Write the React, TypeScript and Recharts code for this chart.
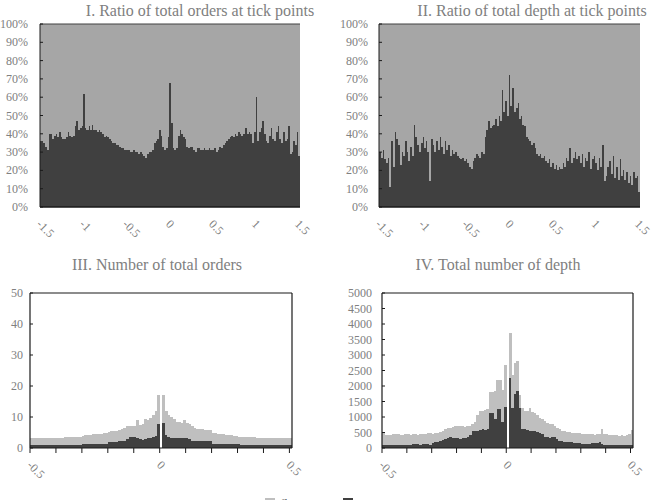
import React from 'react';
import { BarChart, Bar, XAxis, YAxis, Legend } from 'recharts';

const FONT = '"Liberation Serif", "Times New Roman", serif';
const DARK = '#404040';
const LIGHT_TOP = '#a6a6a6';
const LIGHT_BOTTOM = '#bfbfbf';
const TEXT = '#808080';
const AXIS = '#1a1a1a';

// category labels
const wideCategories = Array.from({ length: 151 }, (_, i) => String(Number((-1.5 + 0.02 * i).toFixed(2))));
const narrowCategories = Array.from({ length: 101 }, (_, i) => String(Number((-0.5 + 0.01 * i).toFixed(2))));
const wideTickLabels = ['-1.5', '-1', '-0.5', '0', '0.5', '1', '1.5'];
const narrowTickLabels = ['-0.5', '0', '0.5'];
const ratioTicks = [0, 10, 20, 30, 40, 50, 60, 70, 80, 90, 100];
const ordersTicks = [0, 10, 20, 30, 40, 50];
const depthTicks = [0, 500, 1000, 1500, 2000, 2500, 3000, 3500, 4000, 4500, 5000];
const legendNames = ['fleeting', 'persistent'];
const titles = [
  'I. Ratio of total orders at tick points',
  'II. Ratio of total depth at tick points',
  'III. Number of total orders',
  'IV. Total number of depth',
];

// Panel I: ratio (%) of total orders at tick points
const orderRatio = [
  36, 36, 35, 33, 31, 40, 40, 37, 39, 40,
  38, 41, 38, 37, 37, 38, 41, 39, 38, 39,
  44, 47, 42, 43, 44, 62, 43, 42, 44, 42,
  45, 42, 42, 41, 42, 41, 40, 38, 39, 38,
  37, 36, 35, 35, 34, 34, 33, 32, 32, 31,
  31, 31, 30, 30, 31, 30, 30, 29, 30, 29,
  28, 27, 29, 30, 30, 31, 35, 36, 37, 42,
  39, 33, 31, 32, 38, 68, 46, 32, 31, 32,
  39, 42, 40, 38, 37, 33, 32, 33, 33, 31,
  30, 32, 32, 31, 31, 32, 31, 31, 32, 31,
  31, 32, 30, 31, 33, 32, 34, 35, 36, 37,
  38, 39, 38, 40, 39, 41, 40, 39, 40, 43,
  40, 41, 40, 35, 41, 60, 36, 41, 43, 47,
  40, 36, 35, 39, 43, 37, 36, 41, 44, 37,
  35, 41, 36, 37, 44, 29, 30, 36, 34, 41, 28,
];

// Panel II: ratio (%) of total depth at tick points
const depthRatio = [
  30, 27, 31, 26, 24, 27, 11, 36, 22, 41,
  37, 34, 23, 30, 28, 36, 30, 25, 33, 28,
  45, 38, 34, 30, 35, 38, 32, 36, 30, 14,
  37, 34, 30, 36, 31, 38, 33, 29, 36, 31,
  34, 28, 31, 29, 30, 28, 27, 26, 27, 25,
  26, 24, 22, 21, 25, 27, 29, 28, 27, 30,
  29, 38, 42, 47, 43, 44, 45, 48, 44, 50,
  47, 64, 52, 58, 50, 72, 55, 65, 52, 54,
  57, 48, 50, 45, 44, 38, 37, 36, 34, 35,
  32, 29, 28, 29, 27, 28, 25, 24, 26, 22,
  24, 21, 23, 20, 22, 21, 24, 22, 27, 25,
  32, 24, 27, 30, 26, 28, 24, 29, 22, 27,
  25, 30, 21, 26, 28, 24, 20, 27, 22, 34,
  14, 17, 22, 25, 18, 28, 16, 22, 15, 26,
  17, 20, 15, 19, 13, 17, 12, 19, 16, 17, 8,
];

// Panel III: number of total orders, and persistent part
const ordersTotal = [
  3.2, 3.2, 3.1, 3.2, 3.1, 3.1, 3.2, 3.1, 3.1, 3.2,
  3.3, 3.3, 3.3, 3.4, 3.4, 3.4, 3.5, 3.5, 3.5, 3.6,
  4.0, 4.1, 4.2, 4.3, 4.4, 4.5, 4.6, 4.6, 4.7, 4.8,
  5.3, 5.4, 5.5, 5.6, 5.8, 6.0, 6.3, 7.0, 7.0, 7.2,
  7.0, 9.0, 7.4, 7.8, 9.5, 9.0, 9.6, 10.5, 12.0, 17.0,
  0,
  17.0, 12.0, 10.5, 10.0, 9.5, 8.5, 8.3, 8.0, 9.0, 8.2,
  7.6, 7.0, 6.5, 6.1, 6.0, 6.0, 5.9, 5.9, 5.8, 4.8,
  4.7, 4.6, 4.5, 4.4, 4.3, 4.2, 4.1, 4.0, 3.9, 3.7,
  3.6, 3.6, 3.5, 3.5, 3.4, 3.4, 3.3, 3.3, 3.3, 3.2,
  3.2, 3.2, 3.1, 3.2, 3.1, 3.1, 3.2, 3.1, 3.1, 3.2,
];
const ordersPersistent = [
  1.0, 1.0, 1.0, 1.0, 1.0, 1.0, 1.0, 1.0, 1.0, 1.0,
  1.1, 1.1, 1.1, 1.1, 1.1, 1.1, 1.1, 1.1, 1.1, 1.1,
  1.2, 1.2, 1.3, 1.3, 1.3, 1.3, 1.4, 1.4, 1.4, 1.4,
  1.9, 1.9, 2.0, 2.0, 2.1, 2.2, 2.4, 2.9, 3.4, 3.5,
  3.4, 3.3, 2.8, 2.7, 3.0, 3.2, 3.3, 3.4, 4.0, 7.8,
  0,
  8.0, 4.2, 3.4, 3.3, 3.3, 3.2, 3.2, 3.1, 3.3, 3.3,
  3.0, 2.4, 2.3, 2.3, 2.2, 2.2, 2.2, 2.1, 2.1, 1.4,
  1.4, 1.4, 1.3, 1.3, 1.3, 1.3, 1.3, 1.3, 1.3, 1.2,
  1.1, 1.1, 1.1, 1.1, 1.1, 1.1, 1.1, 1.1, 1.1, 1.1,
  1.0, 1.0, 1.0, 1.0, 1.0, 1.0, 1.0, 1.0, 1.0, 1.0,
];

// Panel IV: total depth, and persistent part
const depthTotal = [
  470, 430, 410, 420, 440, 460, 450, 430, 420, 450,
  440, 430, 440, 450, 430, 440, 450, 460, 470, 480,
  450, 470, 500, 520, 560, 600, 640, 660, 680, 700,
  710, 720, 700, 680, 700, 720, 760, 850, 1050, 1180,
  1200, 1240, 1250, 1800, 1800, 1850, 2200, 2180, 1880, 2680,
  0,
  3700, 2350, 2730, 2810, 1720, 1300, 1190, 1190, 1280, 1150,
  1140, 1050, 960, 920, 880, 820, 780, 760, 700, 650,
  600, 560, 540, 520, 510, 500, 490, 480, 470, 460,
  460, 450, 440, 450, 430, 440, 460, 620, 450, 440,
  430, 420, 410, 420, 400, 410, 400, 420, 450, 570,
];
const depthPersistent = [
  90, 90, 90, 90, 90, 90, 90, 90, 90, 90,
  110, 110, 130, 130, 120, 110, 130, 130, 120, 110,
  150, 180, 200, 230, 270, 300, 330, 350, 330, 310,
  320, 300, 310, 330, 340, 420, 550, 560, 560, 580,
  600, 570, 620, 1140, 1140, 930, 1250, 1250, 850, 1330,
  0,
  2270, 1300, 1750, 1850, 1300, 620, 600, 580, 550, 560,
  560, 520, 490, 450, 360, 350, 330, 360, 370, 290,
  220, 210, 200, 200, 190, 180, 170, 160, 150, 140,
  140, 140, 140, 150, 150, 160, 200, 120, 100, 100,
  100, 100, 100, 100, 100, 100, 100, 100, 100, 100,
];

const orderRatioData = wideCategories.map((x, i) => ({ x, dark: orderRatio[i], light: 100 - orderRatio[i] }));
const depthRatioData = wideCategories.map((x, i) => ({ x, dark: depthRatio[i], light: 100 - depthRatio[i] }));
const ordersData = narrowCategories.map((x, i) => ({ x, dark: ordersPersistent[i], light: ordersTotal[i] - ordersPersistent[i] }));
const depthData = narrowCategories.map((x, i) => ({ x, dark: depthPersistent[i], light: depthTotal[i] - depthPersistent[i] }));

const makeXTick = (labels: string[], bw: number, marks: boolean) => (props: any) => {
  const { x, y, payload } = props;
  const v = String(payload.value);
  const show = labels.includes(v);
  const lx = x - 2;
  const ly = y + 15;
  return (
    <g>
      {marks && <line x1={x - bw / 2} x2={x - bw / 2} y1={y} y2={y + 5} stroke={AXIS} strokeWidth={1} />}
      {show && (
        <text x={lx} y={ly} transform={`rotate(45 ${lx} ${ly})`} textAnchor="start" dominantBaseline="central"
          fontSize={12} fill={TEXT} fontFamily={FONT}>{v}</text>
      )}
    </g>
  );
};

const makeYTick = (fmt: (v: number) => string, gap: number) => (props: any) => {
  const { x, y, payload } = props;
  return (
    <g>
      <line x1={x} x2={x + 3} y1={y} y2={y} stroke={AXIS} strokeWidth={1} />
      <text x={x - gap} y={y} textAnchor="end" dominantBaseline="central" fontSize={12} fill={TEXT} fontFamily={FONT}>
        {fmt(payload.value)}
      </text>
    </g>
  );
};

// bar shape that fills the whole category band, drawn without antialiasing so no seams appear
const makeBandShape = (bw: number) => (props: any) => {
  const { x, y, height, fill } = props;
  if (!height || !isFinite(height)) return <g />;
  const top = height < 0 ? y + height : y;
  return <rect x={x} y={top} width={bw + 0.3} height={Math.abs(height)} fill={fill} shapeRendering="crispEdges" />;
};

const legendContent = (props: any) => {
  const payload = props.payload || [];
  const items = legendNames.map((n) => payload.find((p: any) => p.value === n)).filter(Boolean);
  const pos = [{ sq: 265, tx: 280 }, { sq: 343, tx: 360 }];
  return (
    <div style={{ position: 'relative', height: 0, width: 0 }}>
      {items.map((it: any, k: number) => (
        <React.Fragment key={it.value}>
          <div style={{ position: 'absolute', left: pos[k].sq, top: 248, width: 10, height: 10, background: it.color }} />
          <div style={{ position: 'absolute', left: pos[k].tx, top: 246.5, fontFamily: FONT, fontSize: 13, lineHeight: '13px', color: '#595959', whiteSpace: 'nowrap' }}>
            {it.value}
          </div>
        </React.Fragment>
      ))}
    </div>
  );
};

type PanelProps = {
  left: number; top: number; width: number; height: number;
  marginTop: number; marginRight: number; yWidth: number; xHeight: number;
  data: any[]; light: string; count: number;
  yDomain: [number, number]; yTicks: number[]; yFmt: (v: number) => string; yGap: number;
  xInterval: number; xLabels: string[]; xMarks: boolean;
  boxed: boolean; legend?: boolean;
};

function Panel(p: PanelProps) {
  const plotW = p.width - p.yWidth - p.marginRight;
  const bw = plotW / p.count;
  const shape = makeBandShape(bw);
  const borderColor = p.boxed ? AXIS : '#404040';
  return (
    <div style={{ position: 'absolute', left: p.left, top: p.top }}>
      <BarChart width={p.width} height={p.height} data={p.data}
        margin={{ top: p.marginTop - 1, right: p.marginRight - (p.boxed ? 1 : 0), left: 0, bottom: 0 }}
        barCategoryGap={0} barGap={0}>
        <Bar dataKey="dark" stackId="s" fill={DARK} shape={shape}
          name={legendNames[1]} isAnimationActive={false} />
        <Bar dataKey="light" stackId="s" fill={p.light} shape={shape}
          name={legendNames[0]} isAnimationActive={false} />
        <XAxis dataKey="x" type="category" height={p.xHeight} interval={p.xInterval}
          tickSize={0} tickMargin={0} tickLine={false}
          axisLine={{ stroke: AXIS, strokeWidth: p.boxed ? 1.2 : 1.6 }}
          tick={makeXTick(p.xLabels, bw, p.xMarks)} />
        <XAxis xAxisId="t" dataKey="x" type="category" orientation="top" height={1}
          tick={false} tickLine={false} axisLine={{ stroke: borderColor, strokeWidth: p.boxed ? 1.2 : 1 }} />
        <YAxis type="number" width={p.yWidth} domain={p.yDomain} ticks={p.yTicks} interval={0}
          tickSize={0} tickMargin={0} tickLine={false}
          axisLine={{ stroke: AXIS, strokeWidth: p.boxed ? 1.2 : 1 }}
          tick={makeYTick(p.yFmt, p.yGap)} allowDataOverflow />
        {p.boxed && (
          <YAxis yAxisId="r" type="number" orientation="right" width={1} domain={p.yDomain}
            tick={false} tickLine={false} axisLine={{ stroke: AXIS, strokeWidth: 1.2 }} />
        )}
        {p.legend && (
          <Legend content={legendContent} wrapperStyle={{ left: 0, top: 0, width: 0, height: 0 }} />
        )}
      </BarChart>
    </div>
  );
}

const Title = ({ text, cx, top }: { text: string; cx: number; top: number }) => (
  <div style={{
    position: 'absolute', left: cx - 200, top, width: 400, textAlign: 'center',
    fontFamily: FONT, fontSize: 16, lineHeight: '16px', color: TEXT, whiteSpace: 'nowrap',
  }}>{text}</div>
);

export default function App() {
  return (
    <div style={{ position: 'absolute', left: 0, top: 0, width: 655, height: 500, overflow: 'hidden', background: '#fff' }}>
      <Title text={titles[0]} cx={200} top={3} />
      <Title text={titles[1]} cx={532} top={3} />
      <Title text={titles[2]} cx={157} top={257} />
      <Title text={titles[3]} cx={498} top={257} />
      <Panel left={0} top={0} width={330} height={250} marginTop={24} marginRight={30} yWidth={40} xHeight={43}
        data={orderRatioData} light={LIGHT_TOP} count={151}
        yDomain={[0, 100]} yTicks={ratioTicks} yFmt={(v) => `${v}%`} yGap={12}
        xInterval={24} xLabels={wideTickLabels} xMarks={false} boxed={false} />
      <Panel left={330} top={0} width={325} height={250} marginTop={24} marginRight={15} yWidth={49} xHeight={43}
        data={depthRatioData} light={LIGHT_TOP} count={151}
        yDomain={[0, 100]} yTicks={ratioTicks} yFmt={(v) => `${v}%`} yGap={11}
        xInterval={24} xLabels={wideTickLabels} xMarks={false} boxed={false} />
      <Panel left={0} top={250} width={330} height={230} marginTop={43} marginRight={38} yWidth={30} xHeight={32}
        data={ordersData} light={LIGHT_BOTTOM} count={101}
        yDomain={[0, 50]} yTicks={ordersTicks} yFmt={(v) => `${v}`} yGap={7}
        xInterval={9} xLabels={narrowTickLabels} xMarks={true} boxed={true} legend={true} />
      <Panel left={330} top={250} width={325} height={230} marginTop={43} marginRight={22} yWidth={52} xHeight={32}
        data={depthData} light={LIGHT_BOTTOM} count={101}
        yDomain={[0, 5000]} yTicks={depthTicks} yFmt={(v) => `${v}`} yGap={10}
        xInterval={9} xLabels={narrowTickLabels} xMarks={true} boxed={true} />
    </div>
  );
}
